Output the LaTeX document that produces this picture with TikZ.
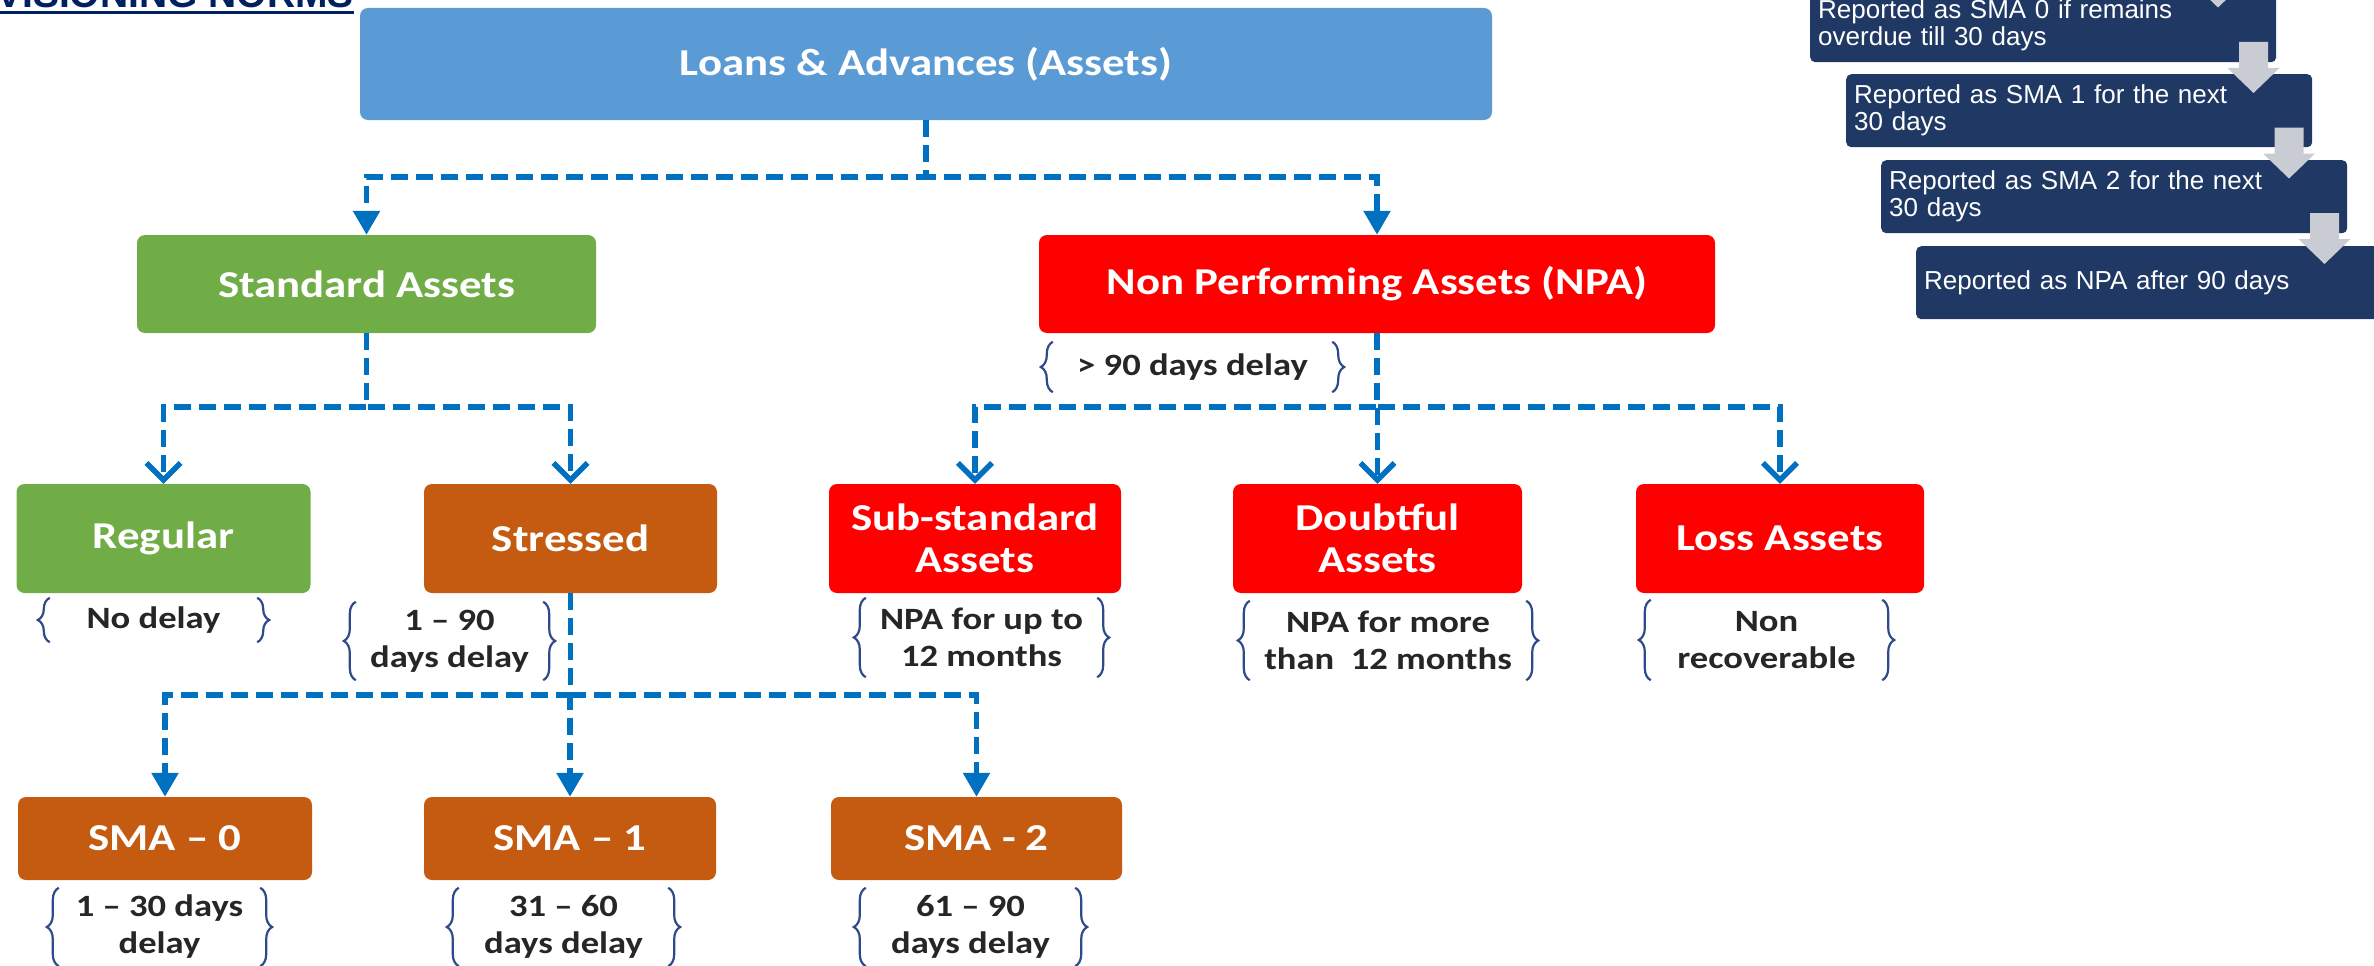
\documentclass[tikz,border=0pt]{standalone}
\usepackage{fontspec}
\usetikzlibrary{arrows.meta,decorations.pathreplacing}
\newfontfamily\calfont{Carlito}[FakeStretch=1.18]
\newfontfamily\arialfont{Liberation Sans}
\definecolor{loansblue}{HTML}{5B9BD5}
\definecolor{stdgreen}{HTML}{70AD47}
\definecolor{npared}{HTML}{FF0000}
\definecolor{stressorange}{HTML}{C55A11}
\definecolor{connblue}{HTML}{0070C0}
\definecolor{bracecol}{HTML}{2F4A8A}
\definecolor{navyfill}{HTML}{1F3864}
\definecolor{titlenavy}{HTML}{002060}
\definecolor{arrowgray}{HTML}{C9CCD3}
\newcommand\bracesaround[1]{%
  \draw[bracedeco] (#1.south west) -- (#1.north west);
  \draw[bracedeco] (#1.north east) -- (#1.south east);}
\begin{document}
\begin{tikzpicture}[x=1pt,y=-1pt,
  box/.style={rounded corners=8pt, text=white, align=center, inner sep=0pt,
    font=\calfont\bfseries\fontsize{38}{42}\selectfont},
  rowbox/.style={box, minimum height=109pt},
  smabox/.style={box, fill=stressorange, minimum height=83pt},
  bracetext/.style={align=center, inner sep=0pt, text=black!85,
    font=\calfont\bfseries\fontsize{31}{37}\selectfont},
  bracedeco/.style={draw=bracecol, line width=2.2pt, decorate,
    decoration={brace, amplitude=12pt}},
  conn/.style={draw=connblue, line width=5.5pt, dash pattern=on 17pt off 8pt},
  solidtip/.style={-{Triangle[width=26pt,length=24pt]}},
  opentip/.style={-{Straight Barb[width=34pt,length=17pt]}},
  navy/.style={fill=navyfill, rounded corners=5pt, text=white, align=left,
    text width=450pt, inner xsep=8pt, inner ysep=0pt, minimum height=73pt,
    font=\arialfont\fontsize{26}{27}\selectfont, anchor=north west}
]
\useasboundingbox (0,0) rectangle (2374,966);
\clip (0,0) rectangle (2374,966);

% title
\node[anchor=base east, inner sep=0pt, text=titlenavy,
  font=\arialfont\bfseries\fontsize{39}{40}\selectfont] (title) at (354,8) {VISIONING NORMS};
\coordinate (ulstart) at (0,13);
\draw[titlenavy, line width=3pt] (ulstart) -- (ulstart -| title.east);

% main boxes
\node[box, fill=loansblue, minimum width=1132pt, minimum height=112pt] (loans) at (926,64) {Loans \& Advances (Assets)};
\node[box, fill=stdgreen, minimum width=459pt, minimum height=98pt] (std) at (366.5,284) {Standard Assets};
\node[box, fill=npared, minimum width=676pt, minimum height=98pt] (npa) at (1377,284) {Non Performing Assets (NPA)};

\node[rowbox, fill=stdgreen, minimum width=294pt] (regular) at (163.5,538.5) {Regular};
\node[rowbox, fill=stressorange, minimum width=293pt] (stressed) at (570.5,538.5) {Stressed};
\node[rowbox, fill=npared, minimum width=292pt] (sub) at (975,538.5) {Sub-standard\\Assets};
\node[rowbox, fill=npared, minimum width=289pt] (doubt) at (1377.5,538.5) {Doubtful\\Assets};
\node[rowbox, fill=npared, minimum width=288pt] (loss) at (1780,538.5) {Loss Assets};

\node[smabox, minimum width=294pt] (sma0) at (165,838.5) {SMA – 0};
\node[smabox, minimum width=292pt] (sma1) at (570,838.5) {SMA – 1};
\node[smabox, minimum width=291pt] (sma2) at (976.5,838.5) {SMA - 2};

% brace labels
\node[bracetext, minimum width=207pt, minimum height=44pt] (bno) at (153.5,620) {No delay};
\node[bracetext, minimum width=187pt, minimum height=78pt] (bstr) at (449.5,641) {1 – 90\\days delay};
\node[bracetext, minimum width=279pt, minimum height=50pt] (bnpa) at (1192.5,367) {> 90 days delay};
\node[bracetext, minimum width=231pt, minimum height=79pt] (bsub) at (981.5,637.5) {NPA for up to\\12 months};
\node[bracetext, minimum width=276pt, minimum height=79pt] (bdoubt) at (1388,640.5) {NPA for more\\than\ \ 12 months};
\node[bracetext, minimum width=231pt, minimum height=80pt] (bloss) at (1766.5,640) {Non\\recoverable};
\node[bracetext, minimum width=201pt, minimum height=78pt] (bs0) at (159.5,927) {1 – 30 days\\delay};
\node[bracetext, minimum width=209pt, minimum height=78pt] (bs1) at (563.5,927) {31 – 60\\days delay};
\node[bracetext, minimum width=209pt, minimum height=78pt] (bs2) at (970.5,927) {61 – 90\\days delay};
\foreach \n in {bno,bstr,bnpa,bsub,bdoubt,bloss,bs0,bs1,bs2}{\bracesaround{\n}}

% connectors
\draw[conn, solidtip] (loans.south) -- ++(0,57) -| (std.north);
\draw[conn, solidtip] (loans.south) -- ++(0,57) -| (npa.north);
\draw[conn, opentip] (std.south) -- ++(0,74) -| (regular.north);
\draw[conn, opentip] (std.south) -- ++(0,74) -| (stressed.north);
\draw[conn, opentip] (npa.south) -- ++(0,74) -| (sub.north);
\draw[conn, opentip] (npa.south) -- ++(0,74) -| (doubt.north);
\draw[conn, opentip] (npa.south) -- ++(0,74) -| (loss.north);
\draw[conn, solidtip] (stressed.south) -- ++(0,102) -| (sma0.north);
\draw[conn, solidtip] (stressed.south) -- ++(0,102) -| (sma1.north);
\draw[conn, solidtip] (stressed.south) -- ++(0,102) -| (sma2.north);

% right-hand reporting steps
\node[navy] (r1) at (1810,-11) {Reported as SMA 0 if remains\\overdue till 30 days};
\node[navy] (r2) at (1846,74) {Reported as SMA 1 for the next\\30 days};
\node[navy] (r3) at (1881,160) {Reported as SMA 2 for the next\\30 days};
\node[navy] (r4) at (1916,246) {Reported as NPA after 90 days};
\foreach \k in {0,1,2,3}{
  \pgfmathsetmacro{\cx}{2218+35.5*\k}
  \pgfmathsetmacro{\ty}{-43.5+85.5*\k}
  \fill[arrowgray] (\cx-14.5,\ty) -- (\cx+14.5,\ty) -- (\cx+14.5,\ty+26) -- (\cx+26,\ty+26)
    -- (\cx,\ty+51) -- (\cx-26,\ty+26) -- (\cx-14.5,\ty+26) -- cycle;
}
\end{tikzpicture}
\end{document}
